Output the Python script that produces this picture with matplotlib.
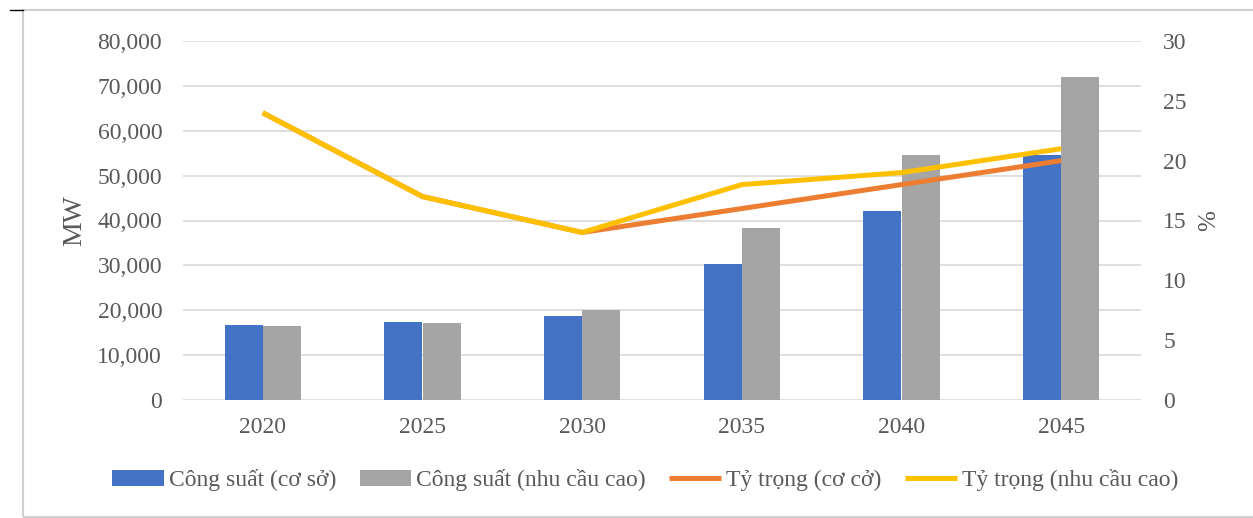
import matplotlib
matplotlib.use('Agg')
import matplotlib.pyplot as plt
import numpy as np

years = ['2020', '2025', '2030', '2035', '2040', '2045']
cap_base = [16700, 17400, 18700, 30300, 42200, 54600]
cap_high = [16550, 17200, 20050, 38300, 54650, 71950]
share_base = [24, 17, 14, 16, 18, 20]
share_high = [24, 17, 14, 18, 19, 21]

plt.rcParams['font.family'] = ['Liberation Serif', 'DejaVu Serif']
text_color = '#595959'

fig = plt.figure(figsize=(12.53, 5.18), dpi=100)
ax = fig.add_axes([183/1253, 1 - 400/518, (1141 - 183)/1253, (400 - 41)/518])
ax2 = ax.twinx()

x = np.arange(len(years))
bar_width = 0.24

ax.bar(x - bar_width/2, cap_base, bar_width, color='#4472C4', label='Công suất (cơ sở)', zorder=2)
ax.bar(x + bar_width/2, cap_high, bar_width, color='#A5A5A5', label='Công suất (nhu cầu cao)', zorder=2)

ax2.plot(x, share_base, color='#ED7D31', lw=3.6, label='Tỷ trọng (cơ cở)', solid_capstyle='butt')
ax2.plot(x, share_high, color='#FFC000', lw=3.6, label='Tỷ trọng (nhu cầu cao)', solid_capstyle='butt')

ax.set_xlim(-0.5, len(years) - 0.5)
ax.set_ylim(0, 80000)
ax.set_yticks(np.arange(0, 80001, 10000))
ax.yaxis.set_major_formatter(matplotlib.ticker.FuncFormatter(lambda v, p: f'{int(v):,}'))
ax2.set_ylim(0, 30)
ax2.set_yticks(np.arange(0, 31, 5))

ax.grid(axis='y', color='#D9D9D9', lw=1.2, zorder=0)
ax.set_axisbelow(True)
for a in (ax, ax2):
    for s in a.spines.values():
        s.set_visible(False)
    a.tick_params(length=0, labelsize=17, labelcolor=text_color)
ax.tick_params(axis='y', pad=15)
ax.tick_params(axis='x', pad=12)
ax2.tick_params(axis='y', pad=16)

ax.set_xticks(x)
ax.set_xticklabels(years)
ax.set_ylabel('MW', fontsize=20, color=text_color, labelpad=7)
ax2.set_ylabel('%', fontsize=18, color=text_color, labelpad=8)

h1, l1 = ax.get_legend_handles_labels()
h2, l2 = ax2.get_legend_handles_labels()
fig.legend(h1 + h2, l1 + l2, loc='center', bbox_to_anchor=(645/1253, 1 - 480/518), ncol=4,
           frameon=False, fontsize=17, labelcolor=text_color, handlelength=2.2,
           handleheight=0.66, handletextpad=0.2, columnspacing=1.0)

# outer frame
fig.add_artist(plt.Rectangle((23/1253, 1/518), 1240/1253, 507/518, transform=fig.transFigure,
                             fill=False, edgecolor='#D0D0D0', lw=1.5))
fig.add_artist(plt.Line2D([10/1253, 23/1253], [1 - 10/518, 1 - 10/518], transform=fig.transFigure,
                          color='black', lw=1))

fig.savefig('out.png', dpi=100)
